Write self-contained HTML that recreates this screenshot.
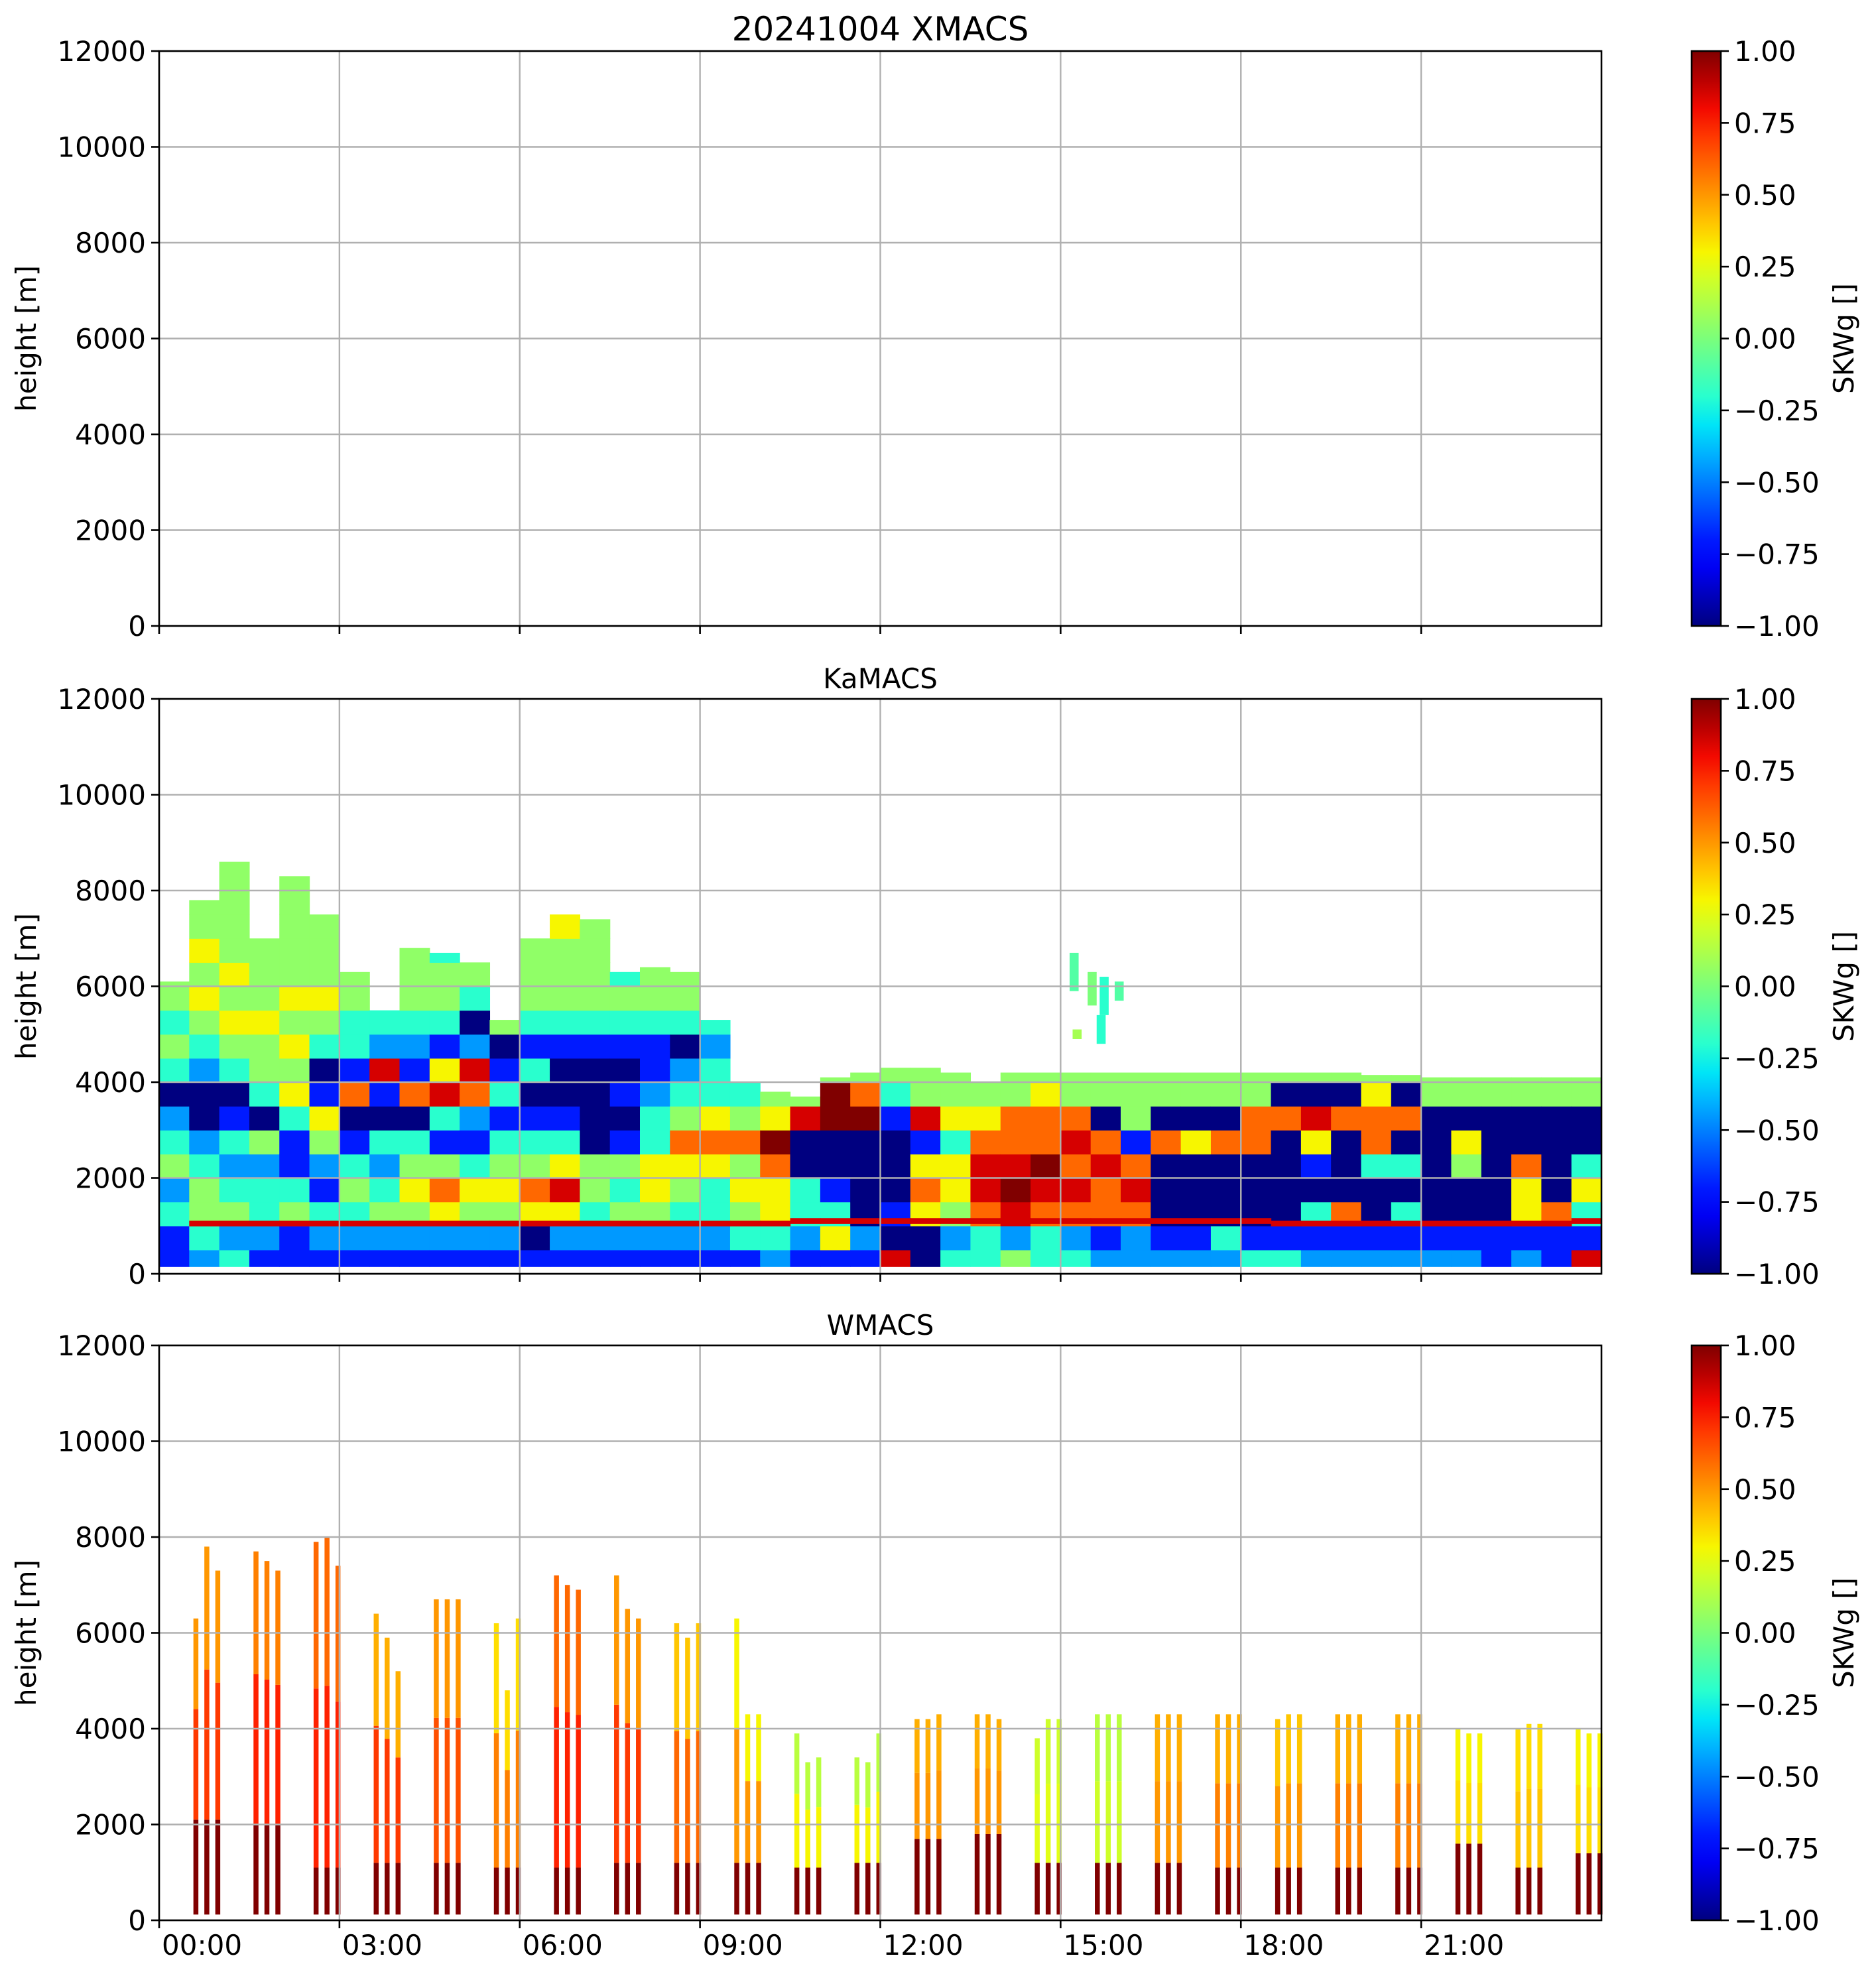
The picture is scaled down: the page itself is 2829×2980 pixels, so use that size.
<!DOCTYPE html>
<html><head><meta charset="utf-8"><style>
html,body{margin:0;padding:0;background:#fff}
svg{display:block;font-family:"DejaVu Sans","Liberation Sans",sans-serif}
</style></head><body>
<svg id="fig" xmlns="http://www.w3.org/2000/svg" width="2829" height="2980" viewBox="0 0 2829 2980">
<rect x="0" y="0" width="2829" height="2980" fill="#fff"/>
<g id="layer-data"></g>
<g id="layer-axes"></g>
</svg>
<script>
// ---------- data ----------
const panelTitles = ["20241004 XMACS", "KaMACS", "WMACS"];
const yTicks = [0, 2000, 4000, 6000, 8000, 10000, 12000];
const xTickHours = [0, 3, 6, 9, 12, 15, 18, 21];
const xTickLabels = ["00:00", "03:00", "06:00", "09:00", "12:00", "15:00", "18:00", "21:00"];
const cbTicks = [-1, -0.75, -0.5, -0.25, 0, 0.25, 0.5, 0.75, 1];
const cbTickLabels = ["\u22121.00", "\u22120.75", "\u22120.50", "\u22120.25", "0.00", "0.25", "0.50", "0.75", "1.00"];

const D = -1, B = -0.7, b = -0.45, c = -0.2, g = 0.05, y = 0.3, o = 0.6, r = 0.85, R = 1;
// KaMACS: half-hour columns, values bottom->top in 500 m rows
const kaColumns = [
 [B,B,c,b,g,c,b,D,c,g,c,g],
 [b,c,g,g,c,b,D,D,b,c,g,y,g,y,g,g],
 [c,b,g,c,b,c,B,D,c,g,y,g,y,g,g,g,g],
 [B,b,c,c,b,g,D,c,g,g,y,g,g,g],
 [B,B,g,c,B,B,c,y,g,y,g,y,g,g,g,g,g],
 [B,b,c,B,b,g,y,B,D,c,g,y,g,g,g],
 [B,b,c,g,c,B,D,o,B,c,c,g,g],
 [B,b,g,c,b,c,D,B,r,b,c],
 [B,b,g,y,g,c,D,o,B,b,c,g,g,g],
 [B,b,y,o,g,B,c,r,y,B,c,g,g,c],
 [B,b,g,y,c,B,b,o,r,b,D,c,g],
 [B,b,g,y,g,c,B,c,B,D,g],
 [B,D,y,o,g,c,B,D,c,B,c,g,g,g],
 [B,b,y,r,y,c,B,D,D,B,c,g,g,g,y],
 [B,b,c,g,g,D,D,D,D,B,c,g,g,g,g],
 [B,b,g,c,g,B,D,B,D,B,c,g,c],
 [B,b,g,y,y,c,c,b,B,B,c,g,g],
 [B,b,c,g,y,o,g,c,b,D,c,g,g],
 [B,b,c,c,y,o,y,c,c,b,c],
 [B,c,g,y,g,o,g,c],
 [b,c,y,y,o,R,y,g],
 [B,b,c,c,D,D,r,g],
 [B,y,c,B,D,D,R,R,g],
 [B,b,D,D,D,D,R,o,g],
 [r,D,B,D,D,D,B,c,g],
 [D,D,y,o,y,B,r,g,g],
 [c,b,g,y,y,c,y,g,g],
 [c,c,o,r,r,o,y,g],
 [g,b,r,R,r,o,o,g,g],
 [c,c,o,r,R,o,o,y,g],
 [c,b,o,r,o,r,o,g,g],
 [b,B,o,o,r,o,D,g,g],
 [b,b,o,r,o,B,g,g,g],
 [b,B,D,D,D,o,D,g,g],
 [b,B,D,D,D,y,D,g,g],
 [b,c,D,D,D,o,D,g,g],
 [c,B,D,D,D,o,o,g,g],
 [c,B,D,D,D,D,o,D,g],
 [b,B,c,D,B,y,r,D,g],
 [b,B,o,D,D,D,o,D,g],
 [b,B,D,D,c,o,o,y,g],
 [b,B,c,D,c,D,o,D,g],
 [b,B,D,D,D,D,D,g,g],
 [b,B,D,D,g,y,D,g,g],
 [B,B,D,D,D,D,D,g,g],
 [b,B,y,y,o,D,D,g,g],
 [B,B,o,D,D,D,D,g,g],
 [r,B,c,y,c,D,D,g,g]
];
const kaCloudTop = [6100,7800,8600,7000,8300,7500,6300,5500,6800,6700,6500,5300,7000,7500,7400,6300,6400,6300,5300,4000,3800,3700,4100,4200,4300,4300,4200,4000,4200,4200,4200,4200,4200,4200,4200,4200,4200,4200,4200,4200,4150,4150,4050,4050,4050,4000,4000,4000];
const kaMeltHeight = [null,1050,1050,1050,1050,1050,1050,1050,1050,1050,1050,1050,1050,1050,1050,1050,1050,1050,1050,1050,1050,1100,1100,1100,1100,1100,1100,1100,1100,1100,1100,1100,1100,1100,1100,1100,1100,1050,1050,1050,1050,1050,1050,1050,1050,1050,1050,1100];
const kaBlobHours = [15.15, 15.45, 15.65, 15.9, 15.2, 15.6];
const kaBlobBottom = [5900, 5600, 5400, 5700, 4900, 4800];
const kaBlobTop = [6700, 6300, 6200, 6100, 5100, 5400];
const kaBlobValues = [-0.1, 0.0, -0.2, -0.1, 0.1, -0.2];

// WMACS: hourly groups of three bars
const wGroupStart = [0.57,1.57,2.57,3.57,4.57,5.57,6.57,7.57,8.57,9.57,10.57,11.57,12.57,13.57,14.57,15.57,16.57,17.57,18.57,19.57,20.57,21.57,22.57,23.57];
const wTopBar1 = [6300,7700,7900,6400,6700,6200,7200,7200,6200,6300,3900,3400,4200,4300,3800,4300,4300,4300,4200,4300,4300,4000,4000,4000];
const wTopBar2 = [7800,7500,8000,5900,6700,4800,7000,6500,5900,4300,3300,3300,4200,4300,4200,4300,4300,4300,4300,4300,4300,3900,4100,3900];
const wTopBar3 = [7300,7300,7400,5200,6700,6300,6900,6300,6200,4300,3400,3900,4300,4200,4200,4300,4300,4300,4300,4300,4300,3900,4100,3900];
const wDarkTop = [2100,2000,1100,1200,1200,1100,1100,1200,1200,1200,1100,1200,1700,1800,1200,1200,1200,1100,1100,1100,1100,1600,1100,1400];
const wMidValue = [0.7,0.75,0.75,0.7,0.65,0.55,0.75,0.7,0.6,0.5,0.3,0.3,0.5,0.5,0.25,0.2,0.5,0.55,0.5,0.55,0.55,0.35,0.4,0.35];
const wUpperValue = [0.5,0.55,0.6,0.45,0.5,0.35,0.6,0.5,0.4,0.3,0.15,0.15,0.45,0.45,0.2,0.15,0.45,0.45,0.4,0.45,0.45,0.3,0.35,0.3];

// ---------- layout ----------
const AX_L = 240, AX_R = 2415, AX_H = 867;
const PANEL_TOP = [77, 1054, 2029];
const CB_L = 2551, CB_R = 2595;
const NS = "http://www.w3.org/2000/svg";
const dataLayer = document.getElementById("layer-data");
const axLayer = document.getElementById("layer-axes");

function xScale(h) { return AX_L + h / 24 * (AX_R - AX_L); }
function yScale(p, v) { return PANEL_TOP[p] + (1 - v / 12000) * AX_H; }
function cbScale(p, v) { return PANEL_TOP[p] + (1 - (v + 1) / 2) * AX_H; }

function jet(v) {
  let t = Math.max(0, Math.min(1, (v + 1) / 2));
  function interp(pts) {
    for (let i = 0; i < pts.length - 1; i++) {
      if (t >= pts[i][0] && t <= pts[i + 1][0]) {
        const f = (t - pts[i][0]) / (pts[i + 1][0] - pts[i][0] || 1);
        return pts[i][1] + f * (pts[i + 1][1] - pts[i][1]);
      }
    }
    return pts[pts.length - 1][1];
  }
  const rr = interp([[0,0],[0.35,0],[0.66,1],[0.89,1],[1,0.5]]);
  const gg = interp([[0,0],[0.125,0],[0.375,1],[0.64,1],[0.91,0],[1,0]]);
  const bb = interp([[0,0.5],[0.11,1],[0.34,1],[0.65,0],[1,0]]);
  return "rgb(" + Math.round(rr*255) + "," + Math.round(gg*255) + "," + Math.round(bb*255) + ")";
}

function mk(tag, attrs, parent) {
  const el = document.createElementNS(NS, tag);
  for (const k in attrs) el.setAttribute(k, attrs[k]);
  parent.appendChild(el);
  return el;
}

// ---------- KaMACS heatmap ----------
kaColumns.forEach((col, i) => {
  const h0 = i * 0.5, h1 = h0 + 0.5;
  col.forEach((v, rI) => {
    const lo = rI === 0 ? 150 : rI * 500;
    let hi = (rI + 1) * 500;
    if (rI === col.length - 1) hi = Math.max(lo + 100, kaCloudTop[i]);
    const x0 = xScale(h0), x1 = xScale(h1);
    const cell = mk("rect", {x: x0, y: yScale(1, hi), width: x1 - x0 + 0.6, height: yScale(1, lo) - yScale(1, hi) + 0.6, fill: jet(v)}, dataLayer);
    
    
  });
});
kaMeltHeight.forEach((m, i) => {
  if (m === null) return;
  const x0 = xScale(i * 0.5), x1 = xScale(i * 0.5 + 0.5);
  const band = mk("rect", {x: x0, y: yScale(1, m + 60), width: x1 - x0 + 0.6, height: yScale(1, m - 60) - yScale(1, m + 60), fill: jet(0.85)}, dataLayer);
  
  
});
kaBlobHours.forEach((h, i) => {
  const x0 = xScale(h), x1 = xScale(h + 0.15);
  const blob = mk("rect", {x: x0, y: yScale(1, kaBlobTop[i]), width: x1 - x0, height: yScale(1, kaBlobBottom[i]) - yScale(1, kaBlobTop[i]), fill: jet(kaBlobValues[i])}, dataLayer);
  
  
});

// ---------- WMACS bars ----------
const barW = 7.5, barGapH = 16.5 / (AX_R - AX_L) * 24;
wGroupStart.forEach((h, gI) => {
  const tops = [wTopBar1[gI], wTopBar2[gI], wTopBar3[gI]];
  tops.forEach((top, k) => {
    const x = xScale(h + k * barGapH);
    const dark = Math.min(wDarkTop[gI], top);
    const upperStart = dark + (top - dark) * 0.55;
    const segs = [[120, dark, 1], [dark, upperStart, wMidValue[gI]], [upperStart, top, wUpperValue[gI]]];
    segs.forEach(s => {
      if (s[1] <= s[0]) return;
      const seg = mk("rect", {x: x, y: yScale(2, s[1]), width: barW, height: yScale(2, s[0]) - yScale(2, s[1]), fill: jet(s[2])}, dataLayer);
      
      
    });
  });
});

// ---------- axes, grid, colorbars ----------
const grad = mk("defs", {}, axLayer);
const lg = mk("linearGradient", {id: "jetgrad", x1: "0", y1: "1", x2: "0", y2: "0"}, grad);
for (let s = 0; s <= 20; s++) {
  mk("stop", {offset: (s / 20), "stop-color": jet(-1 + s / 10)}, lg);
}

const yTickLabelsTxt = yTicks.map(v => String(v));
for (let p = 0; p < 3; p++) {
  const top = PANEL_TOP[p], bot = top + AX_H;
  const g1 = mk("g", {}, axLayer);
  
  
  xTickHours.forEach(h => {
    if (h === 0) return;
    const gl = mk("line", {x1: xScale(h), x2: xScale(h), y1: top, y2: bot, stroke: "#b0b0b0", "stroke-width": 2.4}, g1);
    
    
  });
  yTicks.forEach(v => {
    const gl = mk("line", {x1: AX_L, x2: AX_R, y1: yScale(p, v), y2: yScale(p, v), stroke: "#b0b0b0", "stroke-width": 2.4}, g1);
    
    
  });
  const fr = mk("rect", {x: AX_L, y: top, width: AX_R - AX_L, height: AX_H, fill: "none", stroke: "#000", "stroke-width": 2.6}, g1);
  
  
  yTicks.forEach((v, i) => {
    mk("line", {x1: AX_L - 12, x2: AX_L, y1: yScale(p, v), y2: yScale(p, v), stroke: "#000", "stroke-width": 2.6}, g1);
    const t = mk("text", {x: AX_L - 20, y: yScale(p, v) + 15, "text-anchor": "end", "font-size": 42, fill: "#000"}, g1);
    t.textContent = yTickLabelsTxt[i];
    
    
  });
  xTickHours.forEach((h, i) => {
    mk("line", {x1: xScale(h), x2: xScale(h), y1: bot, y2: bot + 12, stroke: "#000", "stroke-width": 2.6}, g1);
    if (p === 2) {
      const t = mk("text", {x: xScale(h) + 4, y: bot + 52, "text-anchor": "start", "font-size": 42, fill: "#000"}, g1);
      t.textContent = xTickLabels[i];
      
      
    }
  });
  const yl = mk("text", {x: 0, y: 0, transform: "translate(54," + (top + AX_H / 2) + ") rotate(-90)", "text-anchor": "middle", "font-size": 42, fill: "#000"}, g1);
  yl.textContent = "height [m]";
  
  
  const tt = mk("text", {x: (AX_L + AX_R) / 2, y: top - 16, "text-anchor": "middle", "font-size": p === 0 ? 50 : 42, fill: "#000"}, g1);
  tt.textContent = panelTitles[p];
  
  
  const cb = mk("rect", {x: CB_L, y: top, width: CB_R - CB_L, height: AX_H, fill: "url(#jetgrad)", stroke: "#000", "stroke-width": 2.6}, g1);
  
  
  cbTicks.forEach((v, i) => {
    mk("line", {x1: CB_R, x2: CB_R + 12, y1: cbScale(p, v), y2: cbScale(p, v), stroke: "#000", "stroke-width": 2.6}, g1);
    const t = mk("text", {x: CB_R + 20, y: cbScale(p, v) + 15, "text-anchor": "start", "font-size": 42, fill: "#000"}, g1);
    t.textContent = cbTickLabels[i];
    
    
  });
  const cl = mk("text", {x: 0, y: 0, transform: "translate(2795," + (top + AX_H / 2) + ") rotate(-90)", "text-anchor": "middle", "font-size": 42, fill: "#000"}, g1);
  cl.textContent = "SKWg []";
  
  
}
</script>
</body></html>
